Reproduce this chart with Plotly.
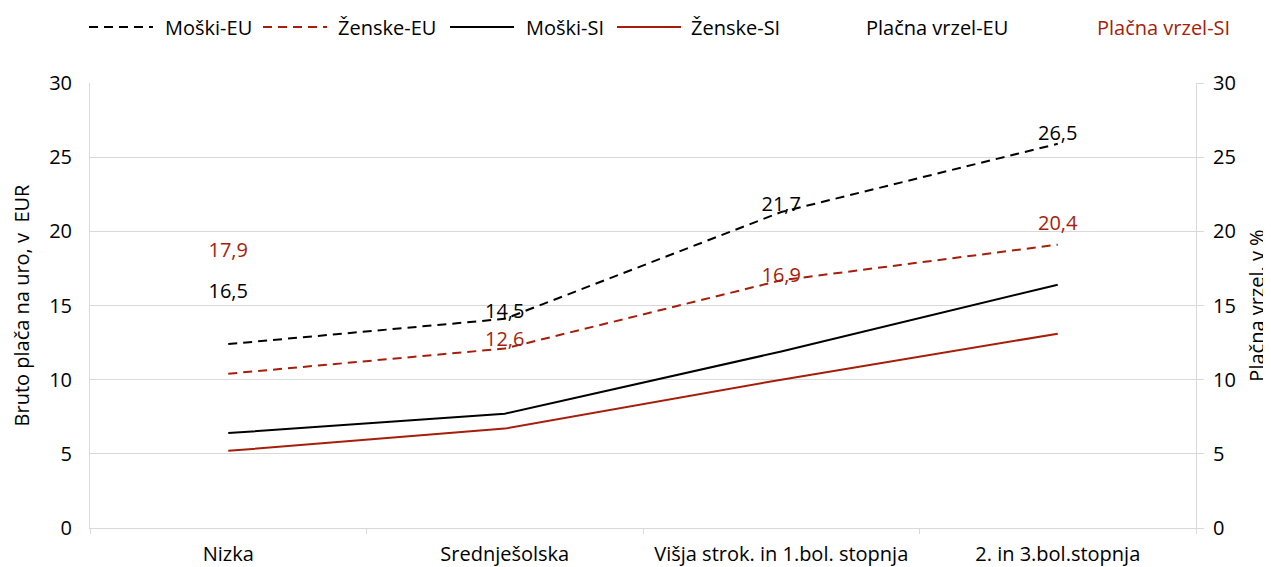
import plotly.graph_objects as go

categories = ["Nizka", "Srednješolska", "Višja strok. in 1.bol. stopnja", "2. in 3.bol.stopnja"]

moski_eu = [12.4, 14.1, 21.3, 25.9]
zenske_eu = [10.4, 12.1, 16.7, 19.1]
moski_si = [6.4, 7.7, 11.9, 16.4]
zenske_si = [5.2, 6.7, 10.0, 13.1]

vrzel_eu = [16.5, 14.5, 21.7, 26.5]
vrzel_si = [17.9, 12.6, 16.9, 20.4]
vrzel_eu_pos = ["bottom center", "middle center", "middle center", "middle center"]
vrzel_si_pos = ["top center", "middle center", "middle center", "middle center"]

BLACK = "#000000"
RED = "#A51E0B"
GRID = "#D9D9D9"
FONT = "Open Sans"
FS = 20

line_series = [
    ("Moški-EU", moski_eu, BLACK, "9px,6px"),
    ("Ženske-EU", zenske_eu, RED, "9px,6px"),
    ("Moški-SI", moski_si, BLACK, "solid"),
    ("Ženske-SI", zenske_si, RED, "solid"),
]

fig = go.Figure()
for name, vals, col, dash in line_series:
    fig.add_trace(go.Scatter(
        x=categories, y=vals, name=name, mode="lines",
        line=dict(color=col, width=2, dash=dash), yaxis="y", showlegend=False,
    ))

for name, vals, col, pos in [("Plačna vrzel-EU", vrzel_eu, BLACK, vrzel_eu_pos),
                             ("Plačna vrzel-SI", vrzel_si, RED, vrzel_si_pos)]:
    fig.add_trace(go.Scatter(
        x=categories, y=vals, name=name, mode="text", yaxis="y2",
        text=[f"{v:.1f}".replace(".", ",") for v in vals],
        textposition=pos, textfont=dict(color=col, size=FS, family=FONT),
        showlegend=False,
    ))

# page body has an 8px margin; figure coordinates are screen coordinates minus 8
OFF = 8
W, H = 1271 - OFF, 567 - OFF
L, R, T, B = 90 - OFF, 75, 83 - OFF, 39
PW, PH = W - L - R, H - T - B

# custom legend (Excel-like long symbols)
legend_items = [
    ("Moški-EU", BLACK, BLACK, "9px,6px", True),
    ("Ženske-EU", RED, BLACK, "9px,6px", True),
    ("Moški-SI", BLACK, BLACK, "solid", True),
    ("Ženske-SI", RED, BLACK, "solid", True),
    ("Plačna vrzel-EU", None, BLACK, None, False),
    ("Plačna vrzel-SI", None, RED, None, False),
]
sym_x = [89, 263, 450, 617]
text_x = [163, 336, 524, 689, 864, 1095]
ly = 27
shapes = []
annotations = []
for i, (name, scol, tcol, dash, has_sym) in enumerate(legend_items):
    yy = (H - B - (ly - OFF)) / PH
    if has_sym:
        shapes.append(dict(type="line", xref="paper", yref="paper",
                           x0=(sym_x[i] - OFF - L) / PW, x1=(sym_x[i] + 64 - OFF - L) / PW,
                           y0=yy, y1=yy, line=dict(color=scol, width=2, dash=dash)))
    annotations.append(dict(text=name, xref="paper", yref="paper",
                            x=(text_x[i] - OFF - L) / PW, y=yy,
                            xanchor="left", yanchor="middle", showarrow=False,
                            font=dict(color=tcol, size=FS, family=FONT)))

fig.update_layout(
    width=W, height=H,
    margin=dict(l=L, r=R, t=T, b=B, autoexpand=False),
    plot_bgcolor="white", paper_bgcolor="white",
    font=dict(family=FONT, size=FS, color="#000000"),
    showlegend=False,
    shapes=shapes, annotations=annotations,
    xaxis=dict(type="category", range=[-0.5, 3.5], showgrid=False, automargin=False,
               showline=True, linecolor=GRID, linewidth=1,
               ticks="outside", tickson="boundaries", ticklen=5, tickcolor=GRID,
               ticklabelstandoff=8, tickfont=dict(size=FS)),
    yaxis=dict(range=[0, 30], dtick=5, showgrid=True, gridcolor=GRID, gridwidth=1,
               showline=True, linecolor=GRID, zeroline=False, automargin=False,
               ticks="", tickfont=dict(size=FS), ticklabelstandoff=13,
               title=dict(text="Bruto plača na uro, v  EUR", font=dict(size=FS), standoff=15)),
    yaxis2=dict(range=[0, 30], dtick=5, overlaying="y", side="right", showgrid=False,
                showline=True, linecolor=GRID, zeroline=False, automargin=False,
                ticks="outside", ticklen=7, tickcolor=GRID, tickfont=dict(size=FS),
                ticklabelstandoff=5,
                title=dict(text="Plačna vrzel, v %", font=dict(size=FS), standoff=15)),
)

fig.write_html("out.html")
